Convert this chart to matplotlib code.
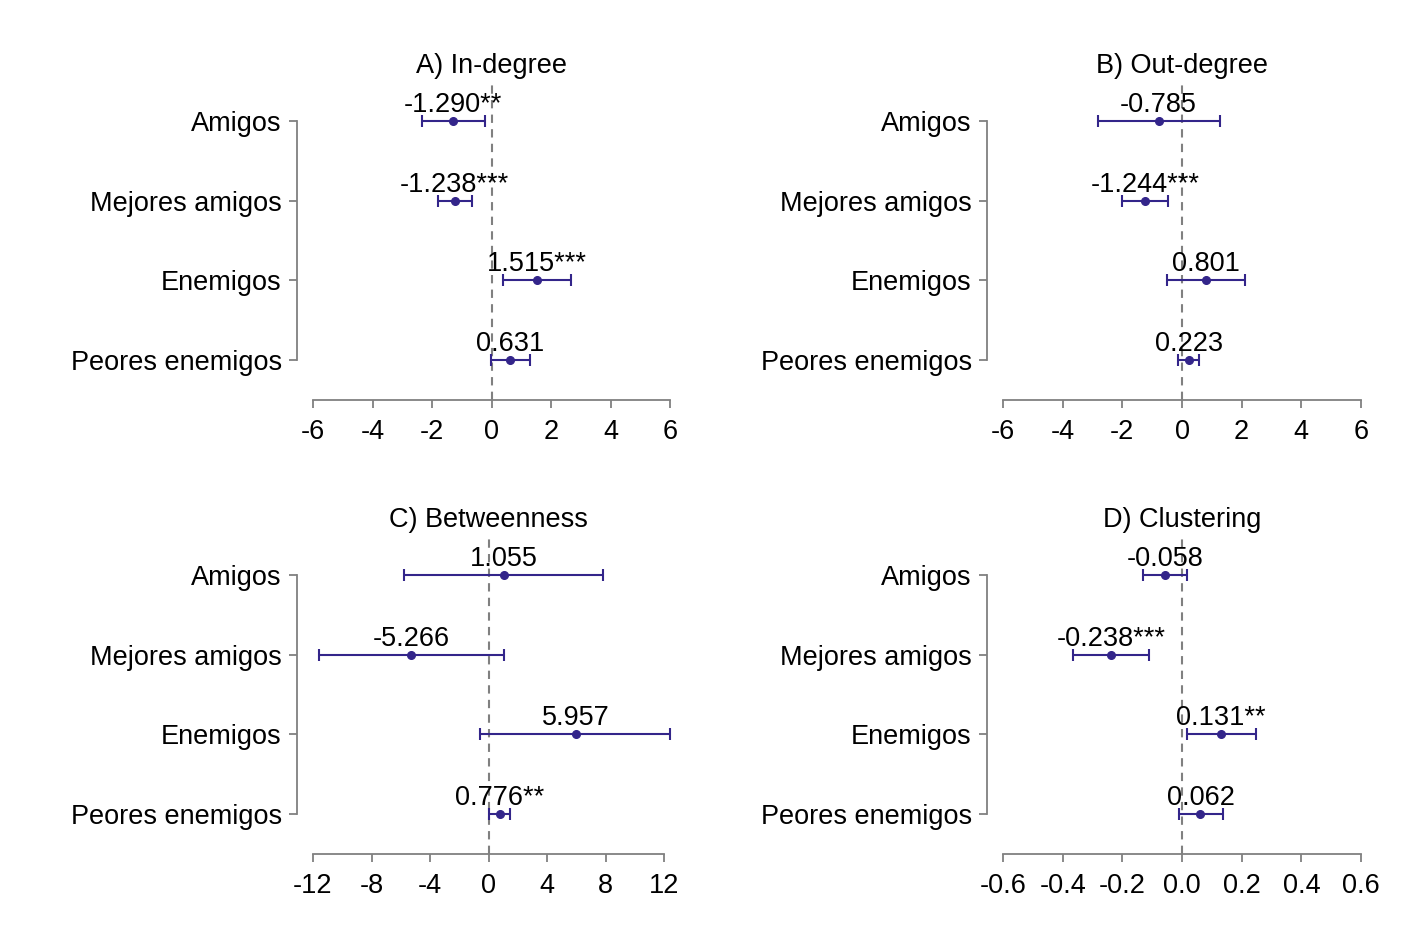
#Modulos requeridos
import numpy as np
import matplotlib.pyplot as plt

plt.rcParams['font.family'] = ['Liberation Sans', 'DejaVu Sans']
plt.rcParams['axes.unicode_minus'] = False

#Datos de los cuatro paneles
categorias = ["Amigos", "Mejores amigos", "Enemigos", "Peores enemigos"]
titulos = ["A) In-degree", "B) Out-degree", "C) Betweenness", "D) Clustering"]

est_in = [-1.290, -1.238, 1.515, 0.631]
inf_in = [-2.35, -1.81, 0.39, -0.02]
sup_in = [-0.22, -0.645, 2.67, 1.30]
etq_in = ["-1.290**", "-1.238***", "1.515***", "0.631"]

est_out = [-0.785, -1.244, 0.801, 0.223]
inf_out = [-2.82, -2.01, -0.49, -0.13]
sup_out = [1.26, -0.46, 2.12, 0.58]
etq_out = ["-0.785", "-1.244***", "0.801", "0.223"]

est_bet = [1.055, -5.266, 5.957, 0.776]
inf_bet = [-5.75, -11.59, -0.60, 0.01]
sup_bet = [7.82, 1.04, 12.44, 1.49]
etq_bet = ["1.055", "-5.266", "5.957", "0.776**"]

est_clu = [-0.058, -0.238, 0.131, 0.062]
inf_clu = [-0.131, -0.365, 0.016, -0.011]
sup_clu = [0.016, -0.110, 0.247, 0.137]
etq_clu = ["-0.058", "-0.238***", "0.131**", "0.062"]

ticks_in = [-6, -4, -2, 0, 2, 4, 6]
ticks_bet = [-12, -8, -4, 0, 4, 8, 12]
ticks_clu = [-0.6, -0.4, -0.2, 0.0, 0.2, 0.4, 0.6]
etq_ticks_clu = ["-0.6", "-0.4", "-0.2", "0.0", "0.2", "0.4", "0.6"]

color_punto = "#33258A"
color_eje = "#808080"
tam = 19.5

W, H = 1423, 949
fig = plt.figure(figsize=(W / 100, H / 100), dpi=100)

def panel(caja, titulo, est, inf, sup, etq, ticks, etq_ticks=None):
    x0, x1, y0, y1 = caja
    ax = fig.add_axes([x0 / W, 1 - y1 / H, (x1 - x0) / W, (y1 - y0) / H])
    pos = np.arange(len(est), 0, -1)
    est = np.array(est)
    err = [est - np.array(inf), np.array(sup) - est]
    ax.axvline(0, color=color_eje, ls=(0, (4, 3)), lw=1.5, zorder=1)
    cont = ax.errorbar(est, pos, xerr=err, fmt='o', color=color_punto, ms=5.5,
                       elinewidth=1.5, capsize=4.5, capthick=1.5, zorder=3)
    for art in cont.lines[1] + cont.lines[2]:
        art.set_clip_on(False)
    cont.lines[0].set_clip_on(False)
    for xi, yi, t in zip(est, pos, etq):
        ax.annotate(t, (xi, yi), xytext=(0, 6.5), textcoords='offset points',
                    ha='center', va='baseline', fontsize=tam)
    ax.set_xlim(ticks[0], ticks[-1])
    ax.set_ylim(0.5, 4.5)
    ax.set_xticks(ticks)
    if etq_ticks is not None:
        ax.set_xticklabels(etq_ticks)
    ax.set_yticks(pos)
    ax.set_yticklabels(categorias)
    for s in ['top', 'right']:
        ax.spines[s].set_visible(False)
    ax.spines['left'].set_position(('outward', 11.5))
    ax.spines['left'].set_bounds(1, 4)
    ax.spines['bottom'].set_bounds(ticks[0], ticks[-1])
    for s in ['left', 'bottom']:
        ax.spines[s].set_color(color_eje)
        ax.spines[s].set_linewidth(1.3)
    ax.tick_params(axis='both', colors=color_eje, labelcolor='black',
                   labelsize=tam, length=6, width=1.3)
    ax.tick_params(axis='x', pad=8)
    ax.tick_params(axis='y', pad=5)
    ax.set_title(titulo, fontsize=tam, pad=6)
    return ax

panel((313, 670, 81, 400), titulos[0], est_in, inf_in, sup_in, etq_in, ticks_in)
panel((1003, 1361, 81, 400), titulos[1], est_out, inf_out, sup_out, etq_out, ticks_in)
panel((313, 664, 535, 854), titulos[2], est_bet, inf_bet, sup_bet, etq_bet, ticks_bet)
panel((1003, 1361, 535, 854), titulos[3], est_clu, inf_clu, sup_clu, etq_clu, ticks_clu, etq_ticks_clu)

fig.savefig("out.png", dpi=100)
